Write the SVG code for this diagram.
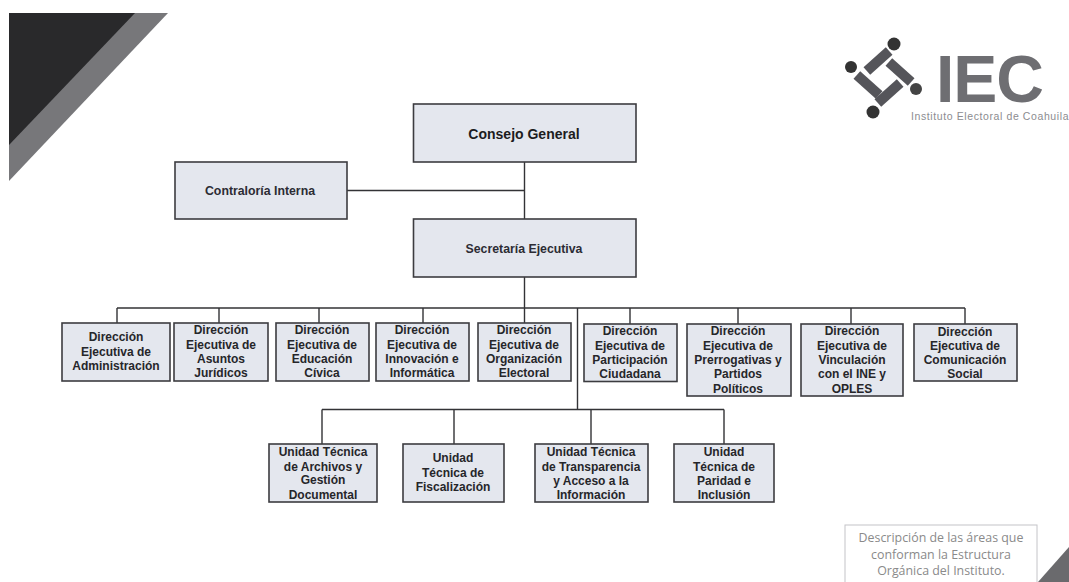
<svg xmlns="http://www.w3.org/2000/svg" width="1069" height="582" viewBox="0 0 1069 582">
<style>
.n{fill:#e4e7ee;stroke:#3c3c40;stroke-width:1.6}
.c{fill:none;stroke:#333336;stroke-width:1.4}
text{font-family:"Liberation Sans",Arial,sans-serif;text-anchor:middle}
.t{font-size:12px;font-weight:bold;fill:#26262a}
.big{font-size:14px;font-weight:bold;fill:#1c1c20}
.mid{font-size:12.300px;font-weight:bold;fill:#2c2c34}
.d{font-family:"Open Sans","Liberation Sans",sans-serif;font-size:12.400px;fill:#8a8a8a}
.logo{fill:#55555a}
</style>
<rect width="1069" height="582" fill="#fff"/>
<g id="decor">
<polygon points="9,13 168,13 9,181" fill="#77777a"/>
<polygon points="9,13 135,13 9,145" fill="#29292b"/>
<polygon points="1069,547 1069,582 1038,582" fill="#6a6a6d"/>
</g>
<g id="logo">
<circle cx="894" cy="44" r="6.500" fill="#333"/>
<circle cx="916" cy="89" r="6" fill="#444"/>
<circle cx="873" cy="112" r="6.500" fill="#333"/>
<circle cx="851" cy="67" r="6" fill="#333"/>
<rect x="863" y="56" width="30" height="10" transform="rotate(-42 878 61)" class="logo"/>
<rect x="885" y="67" width="30" height="10" transform="rotate(42 900 72)" class="logo"/>
<rect x="874" y="88" width="30" height="10" transform="rotate(-42 889 93)" class="logo"/>
<rect x="853" y="80" width="30" height="10" transform="rotate(42 868 85)" class="logo"/>
<text x="936" y="102" style="font-size:66px;font-weight:bold;letter-spacing:-1px;text-anchor:start" fill="#6e6e72">IEC</text>
<text x="911" y="120" style="font-size:10.500px;text-anchor:start;letter-spacing:.6px" fill="#8c8c90">Instituto Electoral de Coahuila</text>
</g>
<g id="connectors">
<path class="c" d="M524.500 162V219M347 190.500H524.500"/>
<path class="c" d="M524.500 277V323M117 308H965M117 308V323M219 308V323M319 308V323M423 308V323M630 308V324M738 308V324M851 308V324M965 308V324"/>
<path class="c" d="M577.500 308V409.500M322 409.500H724M322 409.500V444M454 409.500V444M591 409.500V444M724 409.500V444"/>
</g>
<g id="consejo"><rect class="n" x="413.500" y="104" width="222.500" height="58"/><text class="big" x="524" y="139">Consejo General</text></g>
<g id="contraloria"><rect class="n" x="175" y="162" width="172" height="57"/><text class="mid" x="260" y="195">Contraloría Interna</text></g>
<g id="secretaria"><rect class="n" x="413.500" y="219" width="222.500" height="58"/><text class="mid" x="524" y="253">Secretaría Ejecutiva</text></g>
<g id="d1"><rect class="n" x="62" y="323" width="108" height="58"/><text class="t" x="116" y="341">Dirección</text><text class="t" x="116" y="356">Ejecutiva de</text><text class="t" x="116" y="370">Administración</text></g>
<g id="d2"><rect class="n" x="174" y="323" width="94" height="58"/><text class="t" x="221" y="334">Dirección</text><text class="t" x="221" y="349">Ejecutiva de</text><text class="t" x="221" y="363">Asuntos</text><text class="t" x="221" y="377">Jurídicos</text></g>
<g id="d3"><rect class="n" x="276" y="323" width="93" height="58"/><text class="t" x="322" y="334">Dirección</text><text class="t" x="322" y="349">Ejecutiva de</text><text class="t" x="322" y="363">Educación</text><text class="t" x="322" y="377">Cívica</text></g>
<g id="d4"><rect class="n" x="376" y="323" width="93" height="58"/><text class="t" x="422" y="334">Dirección</text><text class="t" x="422" y="349">Ejecutiva de</text><text class="t" x="422" y="363">Innovación e</text><text class="t" x="422" y="377">Informática</text></g>
<g id="d5"><rect class="n" x="478" y="323" width="93" height="58"/><text class="t" x="524" y="334">Dirección</text><text class="t" x="524" y="349">Ejecutiva de</text><text class="t" x="524" y="363">Organización</text><text class="t" x="524" y="377">Electoral</text></g>
<g id="d6"><rect class="n" x="584" y="324" width="93" height="57.500"/><text class="t" x="630" y="335">Dirección</text><text class="t" x="630" y="350">Ejecutiva de</text><text class="t" x="630" y="364">Participación</text><text class="t" x="630" y="378">Ciudadana</text></g>
<g id="d7"><rect class="n" x="687" y="324" width="104" height="72"/><text class="t" x="738" y="335">Dirección</text><text class="t" x="738" y="350">Ejecutiva de</text><text class="t" x="738" y="364">Prerrogativas y</text><text class="t" x="738" y="378">Partidos</text><text class="t" x="738" y="393">Políticos</text></g>
<g id="d8"><rect class="n" x="801" y="324" width="102" height="72"/><text class="t" x="852" y="335">Dirección</text><text class="t" x="852" y="350">Ejecutiva de</text><text class="t" x="852" y="364">Vinculación</text><text class="t" x="852" y="378">con el INE y</text><text class="t" x="852" y="393">OPLES</text></g>
<g id="d9"><rect class="n" x="914" y="324" width="103" height="57"/><text class="t" x="965" y="336">Dirección</text><text class="t" x="965" y="350">Ejecutiva de</text><text class="t" x="965" y="364">Comunicación</text><text class="t" x="965" y="378">Social</text></g>
<g id="u1"><rect class="n" x="269" y="444" width="108" height="58"/><text class="t" x="323" y="456">Unidad Técnica</text><text class="t" x="323" y="471">de Archivos y</text><text class="t" x="323" y="484">Gestión</text><text class="t" x="323" y="499">Documental</text></g>
<g id="u2"><rect class="n" x="403" y="444" width="101" height="58"/><text class="t" x="453" y="462">Unidad</text><text class="t" x="453" y="477">Técnica de</text><text class="t" x="453" y="491">Fiscalización</text></g>
<g id="u3"><rect class="n" x="535" y="444" width="113" height="58"/><text class="t" x="591" y="456">Unidad Técnica</text><text class="t" x="591" y="471">de Transparencia</text><text class="t" x="591" y="485">y Acceso a la</text><text class="t" x="591" y="499">Información</text></g>
<g id="u4"><rect class="n" x="674" y="444" width="100" height="58"/><text class="t" x="724" y="456">Unidad</text><text class="t" x="724" y="471">Técnica de</text><text class="t" x="724" y="485">Paridad e</text><text class="t" x="724" y="499">Inclusión</text></g>
<g id="desc"><rect x="845" y="525" width="192" height="70" fill="#fff" stroke="#c4c4c8" stroke-width="1"/><text class="d" x="941" y="542">Descripción de las áreas que</text><text class="d" x="941" y="559">conforman la Estructura</text><text class="d" x="941" y="575">Orgánica del Instituto.</text></g>
</svg>
